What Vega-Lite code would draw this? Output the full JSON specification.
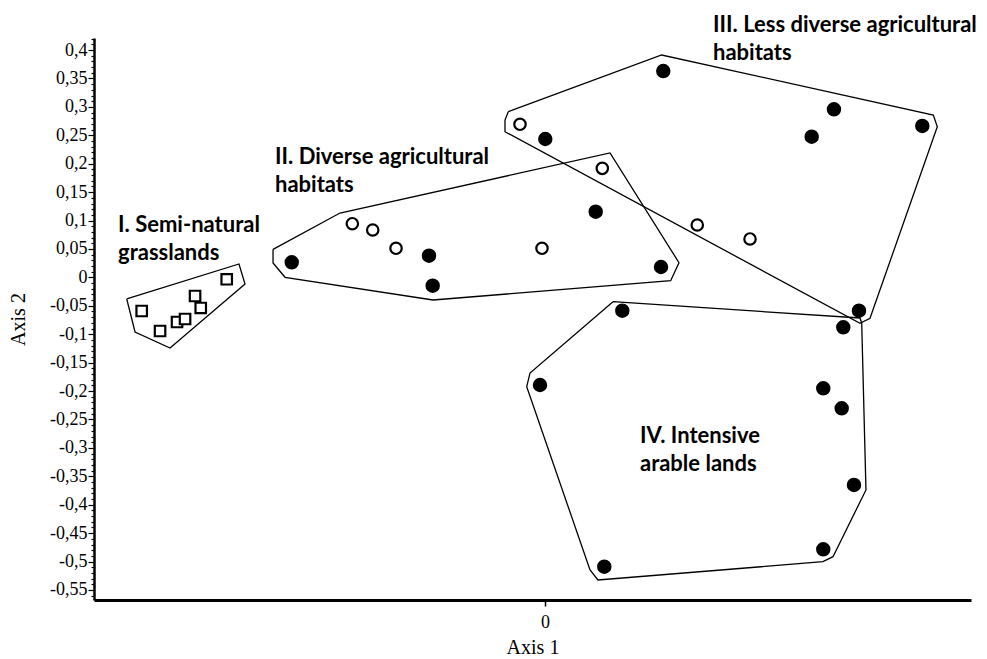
{
  "$schema": "https://vega.github.io/schema/vega-lite/v6.json",
  "width": 877,
  "height": 562,
  "autosize": {"type": "none"},
  "padding": {"left": 94, "top": 38, "right": 16, "bottom": 59},
  "background": "white",
  "config": {"view": {"stroke": null}},
  "datasets": {
    "points": [
      {"group": "I", "type": "square", "x": -0.7096, "y": -0.0591},
      {"group": "I", "type": "square", "x": -0.6773, "y": -0.0943},
      {"group": "I", "type": "square", "x": -0.6474, "y": -0.0785},
      {"group": "I", "type": "square", "x": -0.6333, "y": -0.0732},
      {"group": "I", "type": "square", "x": -0.6157, "y": -0.0327},
      {"group": "I", "type": "square", "x": -0.6057, "y": -0.0538},
      {"group": "I", "type": "square", "x": -0.5600, "y": -0.0033},
      {"group": "II", "type": "filled", "x": -0.4456, "y": 0.0266},
      {"group": "II", "type": "filled", "x": -0.2041, "y": 0.0382},
      {"group": "II", "type": "filled", "x": -0.1976, "y": -0.0146},
      {"group": "II", "type": "filled", "x": 0.0892, "y": 0.1156},
      {"group": "II", "type": "filled", "x": 0.2041, "y": 0.0183},
      {"group": "II", "type": "open", "x": -0.3390, "y": 0.0945},
      {"group": "II", "type": "open", "x": -0.3031, "y": 0.0834},
      {"group": "II", "type": "open", "x": -0.2621, "y": 0.0512},
      {"group": "II", "type": "open", "x": -0.0053, "y": 0.0512},
      {"group": "II", "type": "open", "x": 0.1008, "y": 0.1919},
      {"group": "III", "type": "filled", "x": 0.2081, "y": 0.3631},
      {"group": "III", "type": "filled", "x": 0.0005, "y": 0.2435},
      {"group": "III", "type": "filled", "x": 0.5084, "y": 0.2957},
      {"group": "III", "type": "filled", "x": 0.4692, "y": 0.2475},
      {"group": "III", "type": "filled", "x": 0.6638, "y": 0.2664},
      {"group": "III", "type": "filled", "x": 0.5524, "y": -0.0586},
      {"group": "III", "type": "open", "x": -0.0440, "y": 0.2694},
      {"group": "III", "type": "open", "x": 0.2679, "y": 0.0922},
      {"group": "III", "type": "open", "x": 0.3607, "y": 0.0676},
      {"group": "IV", "type": "filled", "x": 0.1360, "y": -0.0586},
      {"group": "IV", "type": "filled", "x": 0.5248, "y": -0.0878},
      {"group": "IV", "type": "filled", "x": -0.0088, "y": -0.1893},
      {"group": "IV", "type": "filled", "x": 0.4896, "y": -0.1951},
      {"group": "IV", "type": "filled", "x": 0.5220, "y": -0.2303},
      {"group": "IV", "type": "filled", "x": 0.5436, "y": -0.3652},
      {"group": "IV", "type": "filled", "x": 0.4896, "y": -0.4784},
      {"group": "IV", "type": "filled", "x": 0.1043, "y": -0.5090}
    ],
    "hulls": [
      {"group": "I", "order": 1, "x": -0.7359, "y": -0.0380},
      {"group": "I", "order": 2, "x": -0.5384, "y": 0.0236},
      {"group": "I", "order": 3, "x": -0.5278, "y": -0.0116},
      {"group": "I", "order": 4, "x": -0.6597, "y": -0.1242},
      {"group": "I", "order": 5, "x": -0.7213, "y": -0.0961},
      {"group": "I", "order": 6, "x": -0.7359, "y": -0.0380},
      {"group": "II", "order": 1, "x": -0.4785, "y": 0.0494},
      {"group": "II", "order": 2, "x": -0.3607, "y": 0.1133},
      {"group": "II", "order": 3, "x": 0.1144, "y": 0.2189},
      {"group": "II", "order": 4, "x": 0.2357, "y": 0.0259},
      {"group": "II", "order": 5, "x": 0.2211, "y": -0.0058},
      {"group": "II", "order": 6, "x": -0.1970, "y": -0.0398},
      {"group": "II", "order": 7, "x": -0.4574, "y": 0.0002},
      {"group": "II", "order": 8, "x": -0.4785, "y": 0.0253},
      {"group": "II", "order": 9, "x": -0.4785, "y": 0.0494},
      {"group": "III", "order": 1, "x": -0.0646, "y": 0.2915},
      {"group": "III", "order": 2, "x": 0.2053, "y": 0.3913},
      {"group": "III", "order": 3, "x": 0.6832, "y": 0.2857},
      {"group": "III", "order": 4, "x": 0.6902, "y": 0.2651},
      {"group": "III", "order": 5, "x": 0.5718, "y": -0.0720},
      {"group": "III", "order": 6, "x": 0.5542, "y": -0.0808},
      {"group": "III", "order": 7, "x": -0.0704, "y": 0.2563},
      {"group": "III", "order": 8, "x": -0.0704, "y": 0.2769},
      {"group": "III", "order": 9, "x": -0.0646, "y": 0.2915},
      {"group": "IV", "order": 1, "x": 0.1196, "y": -0.0428},
      {"group": "IV", "order": 2, "x": 0.5542, "y": -0.0714},
      {"group": "IV", "order": 3, "x": 0.5572, "y": -0.0802},
      {"group": "IV", "order": 4, "x": 0.5647, "y": -0.3740},
      {"group": "IV", "order": 5, "x": 0.5067, "y": -0.4914},
      {"group": "IV", "order": 6, "x": 0.4891, "y": -0.5002},
      {"group": "IV", "order": 7, "x": 0.0932, "y": -0.5324},
      {"group": "IV", "order": 8, "x": 0.0792, "y": -0.5148},
      {"group": "IV", "order": 9, "x": -0.0322, "y": -0.1923},
      {"group": "IV", "order": 10, "x": -0.0264, "y": -0.1682},
      {"group": "IV", "order": 11, "x": 0.1196, "y": -0.0428}
    ],
    "labels": [
      {"group": "I", "x": -0.7512, "y": 0.1098, "text": "I. Semi-natural\ngrasslands"},
      {"group": "II", "x": -0.4750, "y": 0.2294, "text": "II. Diverse agricultural\nhabitats"},
      {"group": "III", "x": 0.2956, "y": 0.4617, "text": "III. Less diverse agricultural\nhabitats"},
      {"group": "IV", "x": 0.1671, "y": -0.2614, "text": "IV. Intensive\narable lands"}
    ]
  },
  "encoding": {
    "x": {
      "field": "x",
      "type": "quantitative",
      "scale": {"domain": [-0.7935, 0.7495], "nice": false, "zero": false},
      "axis": {
        "values": [0],
        "title": "Axis 1",
        "grid": false,
        "labelExpr": "'0'",
        "domainColor": "black",
        "domainWidth": 3,
        "tickColor": "black",
        "tickSize": 6,
        "tickWidth": 1.5,
        "labelFont": "Liberation Serif",
        "labelFontSize": 18,
        "labelColor": "black",
        "labelPadding": 7,
        "titleFont": "Liberation Serif",
        "titleFontSize": 20,
        "titleFontWeight": "normal",
        "titleColor": "black",
        "titlePadding": 6
      }
    },
    "y": {
      "field": "y",
      "type": "quantitative",
      "scale": {"domain": [-0.5676, 0.4212], "nice": false, "zero": false},
      "axis": {
        "values": [-0.56,-0.55,-0.54,-0.53,-0.52,-0.51,-0.5,-0.49,-0.48,-0.47,-0.46,-0.45,-0.44,-0.43,-0.42,-0.41,-0.4,-0.39,-0.38,-0.37,-0.36,-0.35,-0.34,-0.33,-0.32,-0.31,-0.3,-0.29,-0.28,-0.27,-0.26,-0.25,-0.24,-0.23,-0.22,-0.21,-0.2,-0.19,-0.18,-0.17,-0.16,-0.15,-0.14,-0.13,-0.12,-0.11,-0.1,-0.09,-0.08,-0.07,-0.06,-0.05,-0.04,-0.03,-0.02,-0.01,0,0.01,0.02,0.03,0.04,0.05,0.06,0.07,0.08,0.09,0.1,0.11,0.12,0.13,0.14,0.15,0.16,0.17,0.18,0.19,0.2,0.21,0.22,0.23,0.24,0.25,0.26,0.27,0.28,0.29,0.3,0.31,0.32,0.33,0.34,0.35,0.36,0.37,0.38,0.39,0.4,0.41,0.42],
        "title": "Axis 2",
        "grid": false,
        "labelOverlap": false,
        "labelExpr": "abs(datum.value*20 - round(datum.value*20)) < 0.001 ? replace(replace(format(datum.value, '.2~f'), '.', ','), '\u2212', '-') : ''",
        "tickSize": {"condition": {"test": "abs(datum.value*20 - round(datum.value*20)) < 0.001", "value": 6}, "value": 3},
        "domainColor": "black",
        "domainWidth": 2.5,
        "tickColor": "black",
        "tickWidth": 1.2,
        "labelFont": "Liberation Serif",
        "labelFontSize": 18,
        "labelColor": "black",
        "labelPadding": 1,
        "titleFont": "Liberation Serif",
        "titleFontSize": 20,
        "titleFontWeight": "normal",
        "titleColor": "black",
        "titlePadding": 21
      }
    }
  },
  "layer": [
    {
      "data": {"name": "hulls"},
      "mark": {"type": "line", "color": "black", "strokeWidth": 1.3, "clip": false},
      "encoding": {
        "detail": {"field": "group"},
        "order": {"field": "order", "type": "quantitative"}
      }
    },
    {
      "data": {"name": "points"},
      "mark": {"type": "point", "filled": true, "stroke": "black", "strokeWidth": 2.2, "opacity": 1},
      "encoding": {
        "shape": {"field": "type", "type": "nominal", "scale": {"domain": ["filled", "open", "square"], "range": ["circle", "circle", "square"]}, "legend": null},
        "fill": {"field": "type", "type": "nominal", "scale": {"domain": ["filled", "open", "square"], "range": ["black", "white", "white"]}, "legend": null},
        "size": {"field": "type", "type": "nominal", "scale": {"domain": ["filled", "open", "square"], "range": [150, 110, 95]}, "legend": null}
      }
    },
    {
      "data": {"name": "labels"},
      "mark": {"type": "text", "font": "Lato", "fontWeight": "bold", "fontSize": 22, "lineHeight": 28, "lineBreak": "\n", "baseline": "top", "align": "left", "color": "black"},
      "encoding": {
        "text": {"field": "text"}
      }
    }
  ]
}
